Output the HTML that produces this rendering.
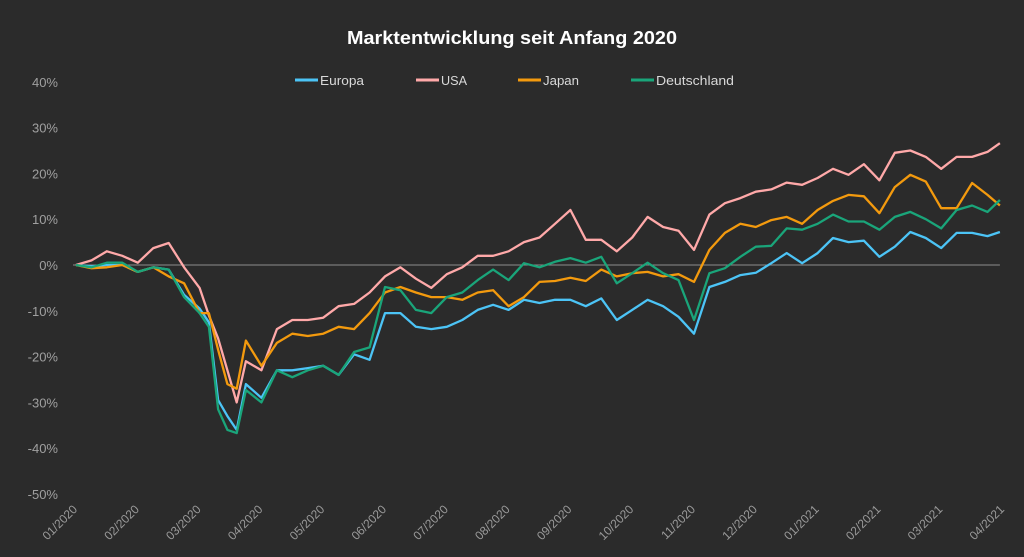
<!DOCTYPE html>
<html><head><meta charset="utf-8"><style>
html,body{margin:0;padding:0;background:#2b2b2b;}
svg{display:block;font-family:"Liberation Sans",sans-serif;}
</style></head><body>
<svg id="chart" width="1024" height="557" viewBox="0 0 1024 557" xmlns="http://www.w3.org/2000/svg">
<rect x="0" y="0" width="1024" height="557" fill="#2b2b2b"/>
<text x="512" y="44" text-anchor="middle" fill="#ffffff" font-weight="bold" font-size="18" textLength="330" lengthAdjust="spacingAndGlyphs">Marktentwicklung seit Anfang 2020</text>
<g font-size="13" fill="#d9d9d9">
 <g><line x1="295" y1="80" x2="318" y2="80" stroke="#4cc4f6" stroke-width="3"/><text x="320" y="85" textLength="44" lengthAdjust="spacingAndGlyphs">Europa</text></g>
 <g><line x1="416" y1="80" x2="439" y2="80" stroke="#ffa9a9" stroke-width="3"/><text x="441" y="85" textLength="26" lengthAdjust="spacingAndGlyphs">USA</text></g>
 <g><line x1="518" y1="80" x2="541" y2="80" stroke="#f39a0e" stroke-width="3"/><text x="543" y="85" textLength="36" lengthAdjust="spacingAndGlyphs">Japan</text></g>
 <g><line x1="631" y1="80" x2="654" y2="80" stroke="#1aa57a" stroke-width="3"/><text x="656" y="85" textLength="78" lengthAdjust="spacingAndGlyphs">Deutschland</text></g>
</g>
<g id="yaxis"></g>
<g id="xaxis"></g>
<line id="zero" stroke="#8c8c8c" stroke-width="1"/>
<g id="series"></g>
</svg>
<script>
const months = [0,0.25,0.5,0.75,1,1.25,1.5,1.75,2,2.15,2.3,2.45,2.6,2.75,
 3,3.25,3.5,3.75,4,4.25,4.5,4.75,5,5.25,5.5,5.75,6,6.25,6.5,6.75,7,7.25,7.5,7.75,8,8.25,8.5,8.75,9,9.25,9.5,9.75,10,10.25,10.5,10.75,11,11.25,11.5,11.75,12,12.25,12.5,12.75,13,13.25,13.5,13.75,14,14.25,14.5,14.75,14.95];
const usa = [0,1,3,2,0.5,3.7,4.8,-0.5,-5,-11,-16,-23,-30,-21,
 -23,-14,-12,-12,-11.5,-9,-8.5,-6,-2.5,
 -0.5,-3,-5,-2,-0.5,2,2,3,5,6,9,12,
 5.5,5.5,3,6,10.5,8.3,7.5,3.3,11,
 13.5,14.6,16,16.5,18,17.5,19,21,19.7,22,18.5,24.5,25,23.6,21,23.6,23.6,24.7,26.6];
const japan = [0,-0.7,-0.5,0,-1.5,-0.5,-2.5,-4,-10.5,-10.5,-18.5,-26,-27,-16.5,
 -22,-17,-15,-15.5,-15,-13.5,-14,-10.5,-6,
 -4.8,-6,-7,-7,-7.6,-6,-5.5,-9,-7,-3.7,-3.5,-2.8,
 -3.5,-1,-2.5,-1.8,-1.5,-2.5,-2,-3.7,3.3,
 7,9,8.3,9.8,10.5,9,12,14,15.3,15,11.3,17,19.7,18.2,12.4,12.4,17.9,15.3,13];
const deutschland = [0,-0.5,0.5,0.5,-1.5,-0.5,-1,-7,-10.5,-13.5,-31.5,-36,-36.7,-27.3,
 -30,-23,-24.5,-23,-22,-24,-19,-18,-4.8,
 -5.5,-9.8,-10.5,-7,-6,-3.3,-1,-3.3,0.4,-0.5,0.7,1.5,
 0.5,1.8,-4,-1.8,0.5,-1.8,-3.3,-12,-1.8,
 -0.7,1.8,4,4.2,8,7.7,9,11,9.5,9.5,7.7,10.5,11.6,10,8,12,13,11.6,14.2];
const europa = [0,-0.3,0,0,-1.5,-0.5,-1,-6.5,-9.5,-12.5,-29.5,-33,-36,-26,
 -29,-23,-23,-22.5,-22,-24,-19.5,-20.7,-10.5,
 -10.5,-13.5,-14,-13.5,-12,-9.8,-8.7,-9.8,-7.6,-8.3,-7.6,-7.6,
 -9,-7.3,-12,-9.8,-7.6,-9,-11.3,-15,-4.8,
 -3.7,-2.2,-1.7,0.4,2.6,0.4,2.6,5.9,5,5.3,1.8,4,7.2,5.9,3.7,7,7,6.3,7.2];
const yTicks = [40,30,20,10,0,-10,-20,-30,-40,-50];
const xTickLabels = ["01/2020","02/2020","03/2020","04/2020","05/2020","06/2020","07/2020","08/2020","09/2020","10/2020","11/2020","12/2020","01/2021","02/2021","03/2021","04/2021"];

const NS = "http://www.w3.org/2000/svg";
function xScale(m){ return 76 + m * 61.8; }
function yScale(v){ return 265 - v * 4.58; }

const yaxis = document.getElementById('yaxis');
yTicks.forEach(v => {
  const t = document.createElementNS(NS,'text');
  
  
  t.setAttribute('x', 58);
  t.setAttribute('y', yScale(v) + 5);
  t.setAttribute('text-anchor', 'end');
  t.setAttribute('fill', '#a0a0a0');
  t.setAttribute('font-size', '13');
  t.textContent = v + '%';
  yaxis.appendChild(t);
});

const xaxis = document.getElementById('xaxis');
xTickLabels.forEach((lab, i) => {
  const x = xScale(i) + 2, y = 510;
  const t = document.createElementNS(NS,'text');
  
  
  t.setAttribute('x', x);
  t.setAttribute('y', y);
  t.setAttribute('text-anchor', 'end');
  t.setAttribute('fill', '#9a9a9a');
  t.setAttribute('font-size', '12');
  t.setAttribute('transform', 'rotate(-45 ' + x + ' ' + y + ')');
  t.textContent = lab;
  xaxis.appendChild(t);
});

const zero = document.getElementById('zero');
zero.setAttribute('x1', xScale(months[0]) - 3);
zero.setAttribute('x2', xScale(months[months.length-1]));
zero.setAttribute('y1', yScale(0));
zero.setAttribute('y2', yScale(0));

const sg = document.getElementById('series');
function drawLine(vals, color, name){
  const p = document.createElementNS(NS,'polyline');
  
  
  p.setAttribute('points', vals.map((v,i) => xScale(months[i]).toFixed(1) + ',' + yScale(v).toFixed(1)).join(' '));
  p.setAttribute('fill', 'none');
  p.setAttribute('stroke', color);
  p.setAttribute('stroke-width', '2.3');
  p.setAttribute('stroke-linejoin', 'round');
  sg.appendChild(p);
}
drawLine(europa, '#4cc4f6', 'europa-line');
drawLine(usa, '#ffa9a9', 'usa-line');
drawLine(japan, '#f39a0e', 'japan-line');
drawLine(deutschland, '#1aa57a', 'deutschland-line');
</script>
</body></html>
